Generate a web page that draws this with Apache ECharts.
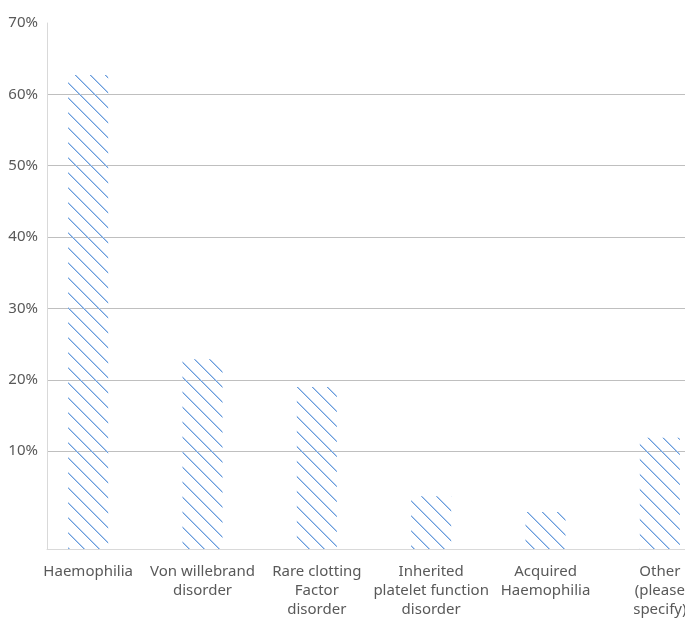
<!DOCTYPE html>
<html>
<head>
<meta charset="utf-8">
<script src="https://cdn.jsdelivr.net/npm/echarts@6/dist/echarts.min.js"></script>
<style>
html, body { margin: 0; padding: 0; background: #fff; }
#main { width: 685px; height: 621px; }
</style>
</head>
<body>
<div id="main"></div>
<script>
// categories and shares (%)
var categories = [
    'Haemophilia',
    'Von willebrand\ndisorder',
    'Rare clotting\nFactor\ndisorder',
    'Inherited\nplatelet function\ndisorder',
    'Acquired\nHaemophilia',
    'Other\n(please\nspecify)'
];
var shares = [62.7, 22.9, 19.0, 3.7, 1.5, 11.9];
var yMin = -3.7;   // the axis floor sits a bit under 0%
var yMax = 70;
var yStep = 10;

var textColor = '#595959';

// diagonal hatch for the bars, drawn pixel by pixel so it stays crisp
function hatch() {
    var size = 15;
    var c = document.createElement('canvas');
    c.width = size;
    c.height = size;
    var ctx = c.getContext('2d');
    for (var i = 0; i < size; i++) {
        ctx.fillStyle = '#6a9ddc';
        ctx.fillRect(i, i, 1, 1);
        ctx.fillStyle = '#b3cdef';
        ctx.fillRect((i + 1) % size, i, 1, 1);
    }
    return c;
}

var chart = echarts.init(document.getElementById('main'));

var option = {
    animation: false,
    backgroundColor: '#fff',
    textStyle: { fontFamily: 'Noto Sans' },
    grid: [
        // axis lines
        { left: 47, right: 0, top: 23, bottom: 72, outerBoundsMode: 'none' },
        // y labels + gridlines (0% .. 70%)
        { left: 47, right: 0, top: 23, bottom: 98.5, outerBoundsMode: 'none' },
        // bars, last band runs past the right edge
        { left: 31, right: -32, top: 23, bottom: 72, outerBoundsMode: 'none' }
    ],
    xAxis: [
        {
            gridIndex: 0, type: 'value', min: 0, max: 1,
            axisLine: { show: true, onZero: false, lineStyle: { color: '#d9d9d9', width: 1 } },
            axisTick: { show: false }, axisLabel: { show: false }, splitLine: { show: false }
        },
        { gridIndex: 1, type: 'value', show: false },
        {
            gridIndex: 2, type: 'category', data: categories,
            axisLine: { show: false }, axisTick: { show: false },
            axisLabel: {
                interval: 0, color: textColor, fontSize: 15, lineHeight: 19,
                margin: 13, hideOverlap: false
            }
        }
    ],
    yAxis: [
        {
            gridIndex: 0, type: 'value', min: yMin, max: yMax,
            axisLine: { show: true, lineStyle: { color: '#d9d9d9', width: 1 } },
            axisTick: { show: false }, axisLabel: { show: false }, splitLine: { show: false }
        },
        {
            gridIndex: 1, type: 'value', min: 0, max: yMax, interval: yStep,
            axisLine: { show: false }, axisTick: { show: false },
            axisLabel: {
                color: textColor, fontSize: 15, margin: 9,
                formatter: function (v) { return v === 0 ? '' : v + '%'; }
            },
            splitLine: {
                show: true, showMinLine: false, showMaxLine: false,
                lineStyle: { color: '#bfbfbf', width: 1 }
            }
        },
        {
            gridIndex: 2, type: 'value', min: yMin, max: yMax, startValue: yMin,
            show: false
        }
    ],
    series: [{
        type: 'bar',
        xAxisIndex: 2,
        yAxisIndex: 2,
        data: shares,
        barWidth: 40,
        itemStyle: { color: { image: hatch(), repeat: 'repeat' } }
    }]
};

chart.setOption(option);
</script>
</body>
</html>
